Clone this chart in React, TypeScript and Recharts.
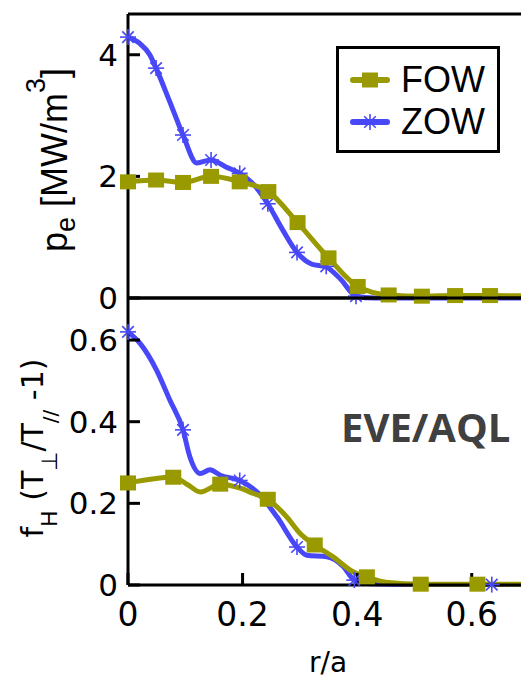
import React from "react";
import { ComposedChart, Line, XAxis, YAxis, Legend } from "recharts";

const OLIVE = "#999900";
const BLUE = "#4848f8";

const rTicks = [0, 0.2, 0.4, 0.6];
const peTicks = [0, 2, 4];
const fhTicks = [0, 0.2, 0.4, 0.6];

// p_e panel, FOW
const peFowR = [0, 0.049, 0.096, 0.145, 0.195, 0.245, 0.296, 0.35, 0.401, 0.455, 0.513, 0.571, 0.632, 0.7];
const peFowVal = [1.91, 1.94, 1.9, 2.0, 1.91, 1.75, 1.24, 0.66, 0.19, 0.05, 0.03, 0.04, 0.04, 0.035];
const peFowMarkR = [0, 0.049, 0.096, 0.145, 0.195, 0.245, 0.296, 0.35, 0.401, 0.455, 0.513, 0.571, 0.632];
const peFowMarkVal = [1.91, 1.94, 1.9, 2.0, 1.91, 1.75, 1.24, 0.66, 0.19, 0.05, 0.03, 0.04, 0.04];

// p_e panel, ZOW
const peZowR = [0, 0.02, 0.038, 0.049, 0.072, 0.096, 0.12, 0.145, 0.17, 0.195, 0.22, 0.244, 0.27, 0.295, 0.32, 0.346, 0.372, 0.398, 0.43, 0.5, 0.6, 0.7];
const peZowVal = [4.29, 4.19, 4.0, 3.78, 3.25, 2.68, 2.22, 2.27, 2.16, 2.05, 1.86, 1.55, 1.12, 0.75, 0.56, 0.51, 0.3, 0.03, 0, 0, 0, 0];
const peZowMarkR = [0, 0.049, 0.096, 0.145, 0.195, 0.244, 0.295, 0.346, 0.398];
const peZowMarkVal = [4.29, 3.78, 2.68, 2.27, 2.05, 1.55, 0.75, 0.52, 0.03];

// f_H panel, FOW
const fhFowR = [0, 0.079, 0.105, 0.126, 0.161, 0.196, 0.219, 0.244, 0.277, 0.3, 0.326, 0.358, 0.392, 0.417, 0.45, 0.511, 0.61, 0.7];
const fhFowVal = [0.25, 0.264, 0.245, 0.228, 0.247, 0.237, 0.224, 0.21, 0.167, 0.127, 0.098, 0.069, 0.033, 0.02, 0.007, 0.002, 0.002, 0.002];
const fhFowMarkR = [0, 0.079, 0.161, 0.244, 0.326, 0.417, 0.511, 0.61];
const fhFowMarkVal = [0.25, 0.264, 0.247, 0.21, 0.098, 0.02, 0.002, 0.002];

// f_H panel, ZOW
const fhZowR = [0, 0.021, 0.05, 0.073, 0.096, 0.108, 0.126, 0.143, 0.161, 0.195, 0.225, 0.26, 0.295, 0.312, 0.347, 0.376, 0.395, 0.423, 0.5, 0.6, 0.7];
const fhZowVal = [0.62, 0.592, 0.526, 0.453, 0.38, 0.314, 0.273, 0.282, 0.269, 0.256, 0.228, 0.167, 0.093, 0.073, 0.069, 0.045, 0.012, 0.003, 0.001, 0.001, 0.001];
const fhZowMarkR = [0, 0.096, 0.195, 0.295, 0.395, 0.635];
const fhZowMarkVal = [0.62, 0.38, 0.256, 0.093, 0.012, 0.001];

const pts = (rs: number[], vs: number[]) => rs.map((r, i) => ({ r, v: vs[i] }));

const axisStroke = { stroke: "#000", strokeWidth: 3 };

const Square = (props: any) => {
  const { cx, cy, index } = props;
  if (cx == null || cy == null) return <g key={`sq-${index}`} />;
  return <rect key={`sq-${index}`} x={cx - 8} y={cy - 7.5} width={16} height={15} fill={OLIVE} />;
};

const Star = (props: any) => {
  const { cx, cy, index } = props;
  if (cx == null || cy == null) return <g key={`st-${index}`} />;
  const r = 8;
  const d = r * 0.72;
  return (
    <g key={`st-${index}`} stroke={BLUE} strokeWidth={1.6}>
      <line x1={cx} y1={cy - r} x2={cx} y2={cy + r} />
      <line x1={cx - r} y1={cy} x2={cx + r} y2={cy} />
      <line x1={cx - d} y1={cy - d} x2={cx + d} y2={cy + d} />
      <line x1={cx - d} y1={cy + d} x2={cx + d} y2={cy - d} />
    </g>
  );
};

const PeTitle = () => (
  <text transform="translate(67,160) rotate(-90)" textAnchor="middle" fontFamily="Liberation Sans" fontSize={36} fill="#000">
    p<tspan fontSize={27} dy={8}>e</tspan>
    <tspan dy={-8}> [MW/m</tspan>
    <tspan fontSize={27} dy={-22}>3</tspan>
    <tspan dy={22}>]</tspan>
  </text>
);

const FhTitle = () => (
  <text transform="translate(43,448) rotate(-90)" textAnchor="middle" fontFamily="DejaVu Sans" fontSize={30} fill="#000">
    f<tspan fontSize={22} dy={14}>H</tspan>
    <tspan dy={-14}> (T</tspan>
    <tspan fontSize={22} dy={14}>⊥</tspan>
    <tspan dy={-14}>/T</tspan>
    <tspan fontSize={20} dy={14}>//</tspan>
    <tspan dy={-14}> -1)</tspan>
  </text>
);

const RTitle = () => (
  <text x={328} y={672} textAnchor="middle" fontFamily="DejaVu Sans" fontSize={28} fill="#000">
    r/a
  </text>
);

const ModelTag = () => (
  <text x={341} y={442} fontFamily="Open Sans" fontWeight={700} fontSize={40} fill="#404040">
    EVE/AQL
  </text>
);

const legendRows = [
  { name: "FOW", color: OLIVE, Marker: Square, y: 34 },
  { name: "ZOW", color: BLUE, Marker: Star, y: 76 },
];

const LegendBox = () => (
  <svg width={164} height={107} style={{ display: "block" }}>
    <rect x={1.5} y={1.5} width={161} height={104} fill="#fff" stroke="#000" strokeWidth={3} />
    {legendRows.map((row, i) => (
      <g key={row.name}>
        <line x1={17} y1={row.y} x2={51} y2={row.y} stroke={row.color} strokeWidth={6} strokeLinecap="round" />
        <row.Marker cx={34} cy={row.y} index={100 + i} />
        <text x={65} y={row.y + 12} fontFamily="Liberation Sans" fontSize={36} fill="#000">
          {row.name}
        </text>
      </g>
    ))}
  </svg>
);

const yTick = { fontSize: 31, fill: "#000", fontFamily: "DejaVu Sans" };
const xTick = { fontSize: 33, fill: "#000", fontFamily: "DejaVu Sans" };

const PePanel = () => (
  <ComposedChart width={560} height={330} margin={{ top: 0, right: 0, bottom: 0, left: 0 }}>
    <XAxis xAxisId="b" type="number" dataKey="r" domain={[0, 0.7]} ticks={rTicks} interval={0} height={32} tick={false} tickSize={-12} axisLine={axisStroke} tickLine={axisStroke} />
    <XAxis xAxisId="t" orientation="top" type="number" dataKey="r" domain={[0, 0.7]} ticks={rTicks} interval={0} height={14} tick={false} tickSize={-12} axisLine={axisStroke} tickLine={axisStroke} />
    <YAxis yAxisId="l" type="number" dataKey="v" domain={[0, 4.67]} ticks={peTicks} interval={0} width={128} tickSize={-12} tickMargin={22} tick={yTick} axisLine={axisStroke} tickLine={axisStroke} label={<PeTitle />} />
    <YAxis yAxisId="r" orientation="right" type="number" domain={[0, 4.67]} ticks={peTicks} interval={0} width={31} tick={false} tickSize={-12} axisLine={axisStroke} tickLine={axisStroke} />
    <Legend layout="vertical" verticalAlign="middle" align="center" content={<LegendBox />} wrapperStyle={{ left: 336, top: 46, width: 164, height: 107 }} />
    <Line xAxisId="b" yAxisId="l" data={pts(peZowR, peZowVal)} dataKey="v" type="monotone" stroke={BLUE} strokeWidth={5} dot={false} activeDot={false} isAnimationActive={false} legendType="none" />
    <Line xAxisId="b" yAxisId="l" data={pts(peZowMarkR, peZowMarkVal)} dataKey="v" stroke="none" dot={Star} activeDot={false} isAnimationActive={false} legendType="none" />
    <Line xAxisId="b" yAxisId="l" data={pts(peFowR, peFowVal)} dataKey="v" type="monotone" stroke={OLIVE} strokeWidth={5} dot={false} activeDot={false} isAnimationActive={false} legendType="none" />
    <Line xAxisId="b" yAxisId="l" data={pts(peFowMarkR, peFowMarkVal)} dataKey="v" stroke="none" dot={Square} activeDot={false} isAnimationActive={false} legendType="none" />
  </ComposedChart>
);

const FhPanel = () => (
  <ComposedChart width={560} height={680} margin={{ top: 0, right: 0, bottom: 0, left: 0 }}>
    <XAxis xAxisId="b" type="number" dataKey="r" domain={[0, 0.7]} ticks={rTicks} interval={0} height={95} tickSize={-12} tickMargin={30} tick={xTick} axisLine={axisStroke} tickLine={axisStroke} label={<RTitle />} />
    <XAxis xAxisId="t" orientation="top" type="number" dataKey="r" domain={[0, 0.7]} ticks={rTicks} interval={0} height={298} tick={false} tickSize={-12} axisLine={axisStroke} tickLine={axisStroke} />
    <YAxis yAxisId="l" type="number" dataKey="v" domain={[0, 0.703]} ticks={fhTicks} interval={0} width={128} tickSize={-12} tickMargin={22} tick={yTick} axisLine={axisStroke} tickLine={axisStroke} label={<FhTitle />} />
    <YAxis yAxisId="r" orientation="right" type="number" domain={[0, 0.703]} ticks={fhTicks} interval={0} width={31} tick={false} tickSize={-12} axisLine={axisStroke} tickLine={axisStroke} label={<ModelTag />} />
    <Line xAxisId="b" yAxisId="l" data={pts(fhZowR, fhZowVal)} dataKey="v" type="monotone" stroke={BLUE} strokeWidth={5} dot={false} activeDot={false} isAnimationActive={false} legendType="none" />
    <Line xAxisId="b" yAxisId="l" data={pts(fhZowMarkR, fhZowMarkVal)} dataKey="v" stroke="none" dot={Star} activeDot={false} isAnimationActive={false} legendType="none" />
    <Line xAxisId="b" yAxisId="l" data={pts(fhFowR, fhFowVal)} dataKey="v" type="monotone" stroke={OLIVE} strokeWidth={5} dot={false} activeDot={false} isAnimationActive={false} legendType="none" />
    <Line xAxisId="b" yAxisId="l" data={pts(fhFowMarkR, fhFowMarkVal)} dataKey="v" stroke="none" dot={Square} activeDot={false} isAnimationActive={false} legendType="none" />
  </ComposedChart>
);

export default function App() {
  return (
    <div style={{ position: "fixed", left: 0, top: 0, width: 521, height: 680, overflow: "hidden", background: "#fff" }}>
      <div style={{ position: "absolute", left: 0, top: 0 }}>
        <PePanel />
      </div>
      <div style={{ position: "absolute", left: 0, top: 0 }}>
        <FhPanel />
      </div>
    </div>
  );
}
